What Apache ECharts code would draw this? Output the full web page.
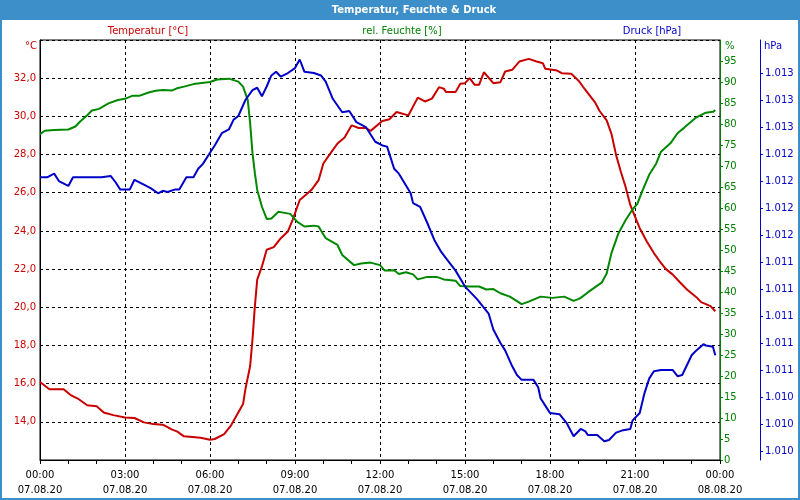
<!DOCTYPE html>
<html>
<head>
<meta charset="utf-8">
<script src="https://cdn.jsdelivr.net/npm/echarts@6/dist/echarts.min.js"></script>
<style>
html,body{margin:0;padding:0;background:#fff;}
#c{width:800px;height:500px;}
</style>
</head>
<body>
<div id="c"></div>
<script>
// time in minutes after 07.08.20 00:00
const tempMin = [0,20,50,65,80,100,120,135,155,180,200,220,240,260,280,290,305,340,360,370,390,405,430,435,445,450,455,460,470,480,495,510,525,535,550,565,575,590,600,615,630,645,660,675,690,700,725,740,755,780,800,815,830,845,855,860,880,890,900,910,920,930,940,960,975,985,1000,1015,1035,1050,1065,1070,1095,1105,1125,1140,1150,1175,1185,1200,1210,1220,1230,1240,1250,1260,1270,1285,1300,1315,1325,1340,1355,1370,1390,1400,1420,1430];
const tempVal = [16.09,15.71,15.71,15.40,15.22,14.87,14.81,14.49,14.35,14.23,14.20,13.97,13.88,13.85,13.59,13.50,13.24,13.17,13.06,13.10,13.36,13.83,14.93,15.71,16.92,18.32,20.05,21.45,22.14,23.01,23.15,23.62,23.97,24.58,25.62,25.93,26.15,26.66,27.53,28.06,28.58,28.89,29.53,29.39,29.39,29.24,29.76,29.85,30.23,30.05,30.98,30.78,30.93,31.53,31.45,31.27,31.27,31.71,31.74,32.00,31.66,31.66,32.31,31.74,31.79,32.35,32.44,32.87,33.01,32.89,32.78,32.49,32.40,32.26,32.23,31.88,31.55,30.75,30.28,29.79,29.10,27.97,27.10,26.31,25.36,24.75,24.14,23.45,22.84,22.32,22.01,21.71,21.31,20.93,20.53,20.27,20.06,19.79];

const humMin = [0,10,30,60,75,85,100,110,125,145,165,180,195,210,230,245,260,280,290,305,325,360,375,400,420,430,440,445,450,455,460,470,480,490,505,515,530,545,560,580,590,605,630,640,665,680,700,720,730,750,760,775,790,800,820,840,855,880,890,910,930,945,960,975,995,1020,1035,1060,1085,1110,1130,1140,1145,1160,1175,1190,1200,1210,1225,1240,1255,1265,1275,1290,1305,1315,1335,1350,1365,1390,1410,1425,1430];
const humVal = [77.6,78.4,78.6,78.7,79.4,80.6,82.1,83.2,83.6,84.9,85.7,86.0,86.7,86.7,87.5,87.9,88.1,88.0,88.5,88.9,89.5,90.0,90.6,90.8,90.1,88.9,85.7,80.2,73.0,68.3,64.3,60.3,57.4,57.5,59.1,58.9,58.6,56.7,55.6,55.8,55.6,52.8,51.2,48.8,46.4,46.8,47.0,46.4,45.1,45.2,44.3,44.7,44.2,43.0,43.6,43.6,43.0,42.7,41.4,41.3,41.3,40.6,40.7,39.7,38.9,37.1,37.7,38.9,38.6,38.9,37.9,38.3,38.6,39.9,41.1,42.3,44.4,49.2,54.0,57.1,59.7,61.0,63.9,67.9,70.6,73.4,75.4,77.8,79.2,81.6,82.7,82.9,83.3];

const presMin = [0,15,30,40,60,70,95,115,130,150,160,170,190,200,220,235,250,260,270,285,295,310,325,335,345,360,370,385,400,410,420,435,450,460,470,480,490,500,510,525,540,550,560,580,595,605,620,640,655,670,690,710,725,735,750,760,785,790,805,820,835,850,860,880,900,925,950,960,975,985,1000,1010,1020,1045,1055,1060,1070,1080,1100,1115,1130,1145,1155,1160,1180,1195,1205,1220,1235,1250,1255,1270,1280,1290,1300,1315,1340,1350,1360,1380,1390,1405,1410,1425,1430];
const presVal = [1012.13,1012.13,1012.16,1012.10,1012.06,1012.13,1012.13,1012.13,1012.13,1012.14,1012.09,1012.03,1012.03,1012.11,1012.07,1012.04,1012.00,1012.02,1012.01,1012.03,1012.03,1012.13,1012.13,1012.20,1012.24,1012.33,1012.39,1012.49,1012.52,1012.60,1012.63,1012.76,1012.84,1012.86,1012.79,1012.87,1012.96,1012.99,1012.95,1012.98,1013.02,1013.09,1012.99,1012.98,1012.96,1012.91,1012.77,1012.66,1012.67,1012.58,1012.54,1012.42,1012.39,1012.38,1012.20,1012.16,1012.00,1011.92,1011.89,1011.76,1011.62,1011.52,1011.47,1011.37,1011.24,1011.14,1011.02,1010.89,1010.78,1010.72,1010.59,1010.52,1010.48,1010.48,1010.42,1010.33,1010.27,1010.21,1010.20,1010.13,1010.02,1010.08,1010.06,1010.03,1010.03,1009.98,1009.99,1010.05,1010.07,1010.08,1010.15,1010.21,1010.37,1010.49,1010.55,1010.56,1010.56,1010.51,1010.52,1010.68,1010.72,1010.77,1010.76,1010.75,1010.68];

const presTicks = [1009.90,1010.12,1010.34,1010.56,1010.78,1011.00,1011.22,1011.44,1011.66,1011.88,1012.10,1012.32,1012.54,1012.76,1012.98];

const FONT = 'DejaVu Sans';
const RED = '#cc0000', GREEN = '#008000', BLUE = '#0000cc', FRAME = '#3c8fc8';

function pairs(t, v) { return t.map((m, i) => [m, v[i]]); }
function fmtTime(v) {
  const h = Math.floor((v % 1440) / 60), m = v % 60;
  const d = v >= 1440 ? '08.08.20' : '07.08.20';
  return String(h).padStart(2, '0') + ':' + String(m).padStart(2, '0') + '\n' + d;
}
function fmtPres(v) {
  const r = Math.round(v);
  return Math.floor(r / 1000) + '.' + String(r % 1000).padStart(3, '0');
}

const chart = echarts.init(document.getElementById('c'), null, {renderer: 'canvas'});
chart.setOption({
  animation: false,
  backgroundColor: '#fff',
  textStyle: {fontFamily: FONT},
  grid: {left: 40, right: 80, top: 40, bottom: 40, show: true, borderColor: '#000', borderWidth: 1, backgroundColor: '#fff'},
  graphic: [
    {type: 'rect', shape: {x: 0, y: 0, width: 800, height: 20}, style: {fill: FRAME}},
    {type: 'rect', shape: {x: 0, y: 0, width: 2, height: 500}, style: {fill: FRAME}},
    {type: 'rect', shape: {x: 798, y: 0, width: 2, height: 500}, style: {fill: FRAME}},
    {type: 'rect', shape: {x: 0, y: 498, width: 800, height: 2}, style: {fill: FRAME}},
    {type: 'text', x: 414, y: 10, style: {text: 'Temperatur, Feuchte & Druck', fill: '#fff', fontFamily: FONT, fontSize: 10, fontWeight: 'bold', align: 'center', verticalAlign: 'middle'}},
    {type: 'text', x: 148, y: 31, style: {text: 'Temperatur [°C]', fill: RED, fontFamily: FONT, fontSize: 10, align: 'center', verticalAlign: 'middle'}},
    {type: 'text', x: 402, y: 31, style: {text: 'rel. Feuchte [%]', fill: GREEN, fontFamily: FONT, fontSize: 10, align: 'center', verticalAlign: 'middle'}},
    {type: 'text', x: 652, y: 31, style: {text: 'Druck [hPa]', fill: BLUE, fontFamily: FONT, fontSize: 10, align: 'center', verticalAlign: 'middle'}},
    {type: 'text', x: 37, y: 46, style: {text: '°C', fill: RED, fontFamily: FONT, fontSize: 10, align: 'right', verticalAlign: 'middle'}},
    {type: 'text', x: 725, y: 46, style: {text: '%', fill: GREEN, fontFamily: FONT, fontSize: 10, align: 'left', verticalAlign: 'middle'}},
    {type: 'text', x: 764, y: 46, style: {text: 'hPa', fill: BLUE, fontFamily: FONT, fontSize: 10, align: 'left', verticalAlign: 'middle'}}
  ],
  xAxis: {
    type: 'value', min: 0, max: 1440, interval: 180,
    axisLine: {onZero: false, lineStyle: {color: '#000', width: 1}},
    axisTick: {show: true, length: 4, lineStyle: {color: '#000'}},
    minorTick: {show: true, splitNumber: 3, length: 4, lineStyle: {color: '#000'}},
    splitLine: {show: true, lineStyle: {type: [3, 3], color: '#000', width: 1}},
    axisLabel: {formatter: fmtTime, fontFamily: FONT, fontSize: 10, color: '#000', lineHeight: 15, margin: 8, showMinLabel: true, showMaxLabel: true}
  },
  yAxis: [
    {
      type: 'value', position: 'left', min: 12, max: 34, interval: 2,
      axisLine: {show: true, onZero: false, lineStyle: {color: '#000'}},
      axisTick: {show: false},
      axisLabel: {color: RED, fontFamily: FONT, fontSize: 10, margin: 4, showMinLabel: false, showMaxLabel: false,
        formatter: v => v.toFixed(1).replace('.', ',')},
      splitLine: {show: true, lineStyle: {type: [3, 3], color: '#000', width: 1}}
    },
    {
      type: 'value', position: 'right', min: 0, max: 100, interval: 5,
      axisLine: {show: true, onZero: false, lineStyle: {color: GREEN}},
      axisTick: {show: true, length: 3, lineStyle: {color: GREEN}},
      axisLabel: {color: GREEN, fontFamily: FONT, fontSize: 10, margin: 4, showMaxLabel: false},
      splitLine: {show: false}
    },
    {
      type: 'value', position: 'right', offset: 40, min: 1009.827, max: 1013.249,
      axisLine: {show: true, onZero: false, lineStyle: {color: BLUE}},
      axisTick: {show: true, length: 3, customValues: presTicks, lineStyle: {color: BLUE}},
      axisLabel: {customValues: presTicks, formatter: fmtPres, color: BLUE, fontFamily: FONT, fontSize: 10, margin: 5},
      splitLine: {show: false}
    }
  ],
  series: [
    {name: 'Temperatur', type: 'line', yAxisIndex: 0, data: pairs(tempMin, tempVal), showSymbol: false, lineStyle: {color: '#c80000', width: 2}, itemStyle: {color: '#c80000'}},
    {name: 'rel. Feuchte', type: 'line', yAxisIndex: 1, data: pairs(humMin, humVal), showSymbol: false, lineStyle: {color: '#008800', width: 2}, itemStyle: {color: '#008800'}},
    {name: 'Druck', type: 'line', yAxisIndex: 2, data: pairs(presMin, presVal), showSymbol: false, lineStyle: {color: '#0000c8', width: 2}, itemStyle: {color: '#0000c8'}}
  ]
});
</script>
</body>
</html>
